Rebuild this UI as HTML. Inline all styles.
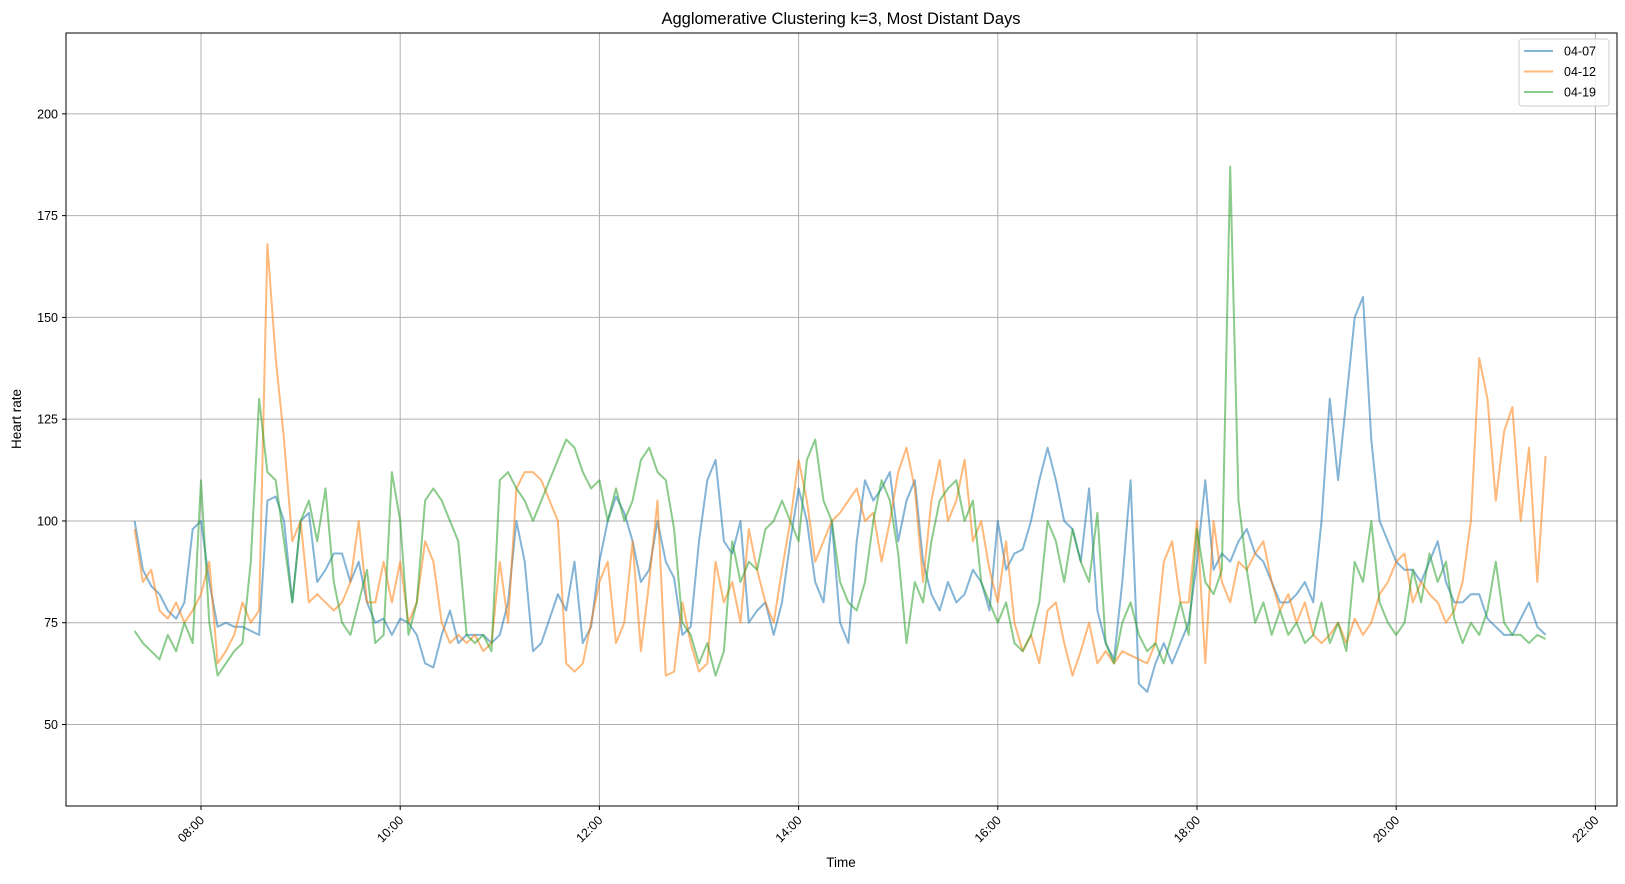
<!DOCTYPE html>
<html><head><meta charset="utf-8"><style>
body{margin:0;background:#fff}
svg text{font-family:"Liberation Sans","DejaVu Sans",sans-serif;fill:#000}
</style></head><body>
<svg id="chart" width="1625" height="879" xmlns="http://www.w3.org/2000/svg">
<rect width="1625" height="879" fill="#fff"/>
<text x="841" y="24" font-size="16.5" text-anchor="middle">Agglomerative Clustering k=3, Most Distant Days</text>
<g id="grid"></g><g id="series"></g><g id="axes"></g>
<text x="841" y="867" font-size="13.5" text-anchor="middle">Time</text>
<text x="21" y="419" font-size="13.5" text-anchor="middle" transform="rotate(-90 21 419)">Heart rate</text>
<g id="legend"></g>
</svg>
<script>
const startMinutes = 7*60+20;
const stepMinutes = 5;
const yTicks = [50,75,100,125,150,175,200];
const xTickHours = [8,10,12,14,16,18,20,22];
const seriesNames = ["04-07","04-12","04-19"];
const s0407 = [100,88,84,82,78,76,80,98,
100,85,74,75,74,74,73,72,105,106,100,80,
100,102,85,88,92,92,85,90,80,75,76,72,
76,75,72,65,64,72,78,70,72,72,72,70,
72,80,100,90,68,70,76,82,78,90,70,74,
90,100,106,102,95,85,88,100,90,86,72,74,
95,110,115,95,92,100,75,78,80,72,80,95,
108,100,85,80,100,75,70,95,110,105,108,112,
95,105,110,90,82,78,85,80,82,88,85,78,
100,88,92,93,100,110,118,110,100,98,90,108,
78,70,66,85,110,60,58,65,70,65,70,75,
90,110,88,92,90,95,98,92,90,85,80,80,
82,85,80,100,130,110,130,150,155,120,100,95,
90,88,88,85,90,95,85,80,80,82,82,76,
74,72,72,76,80,74,72];
const s0412 = [98,85,88,78,76,80,75,78,
82,90,65,68,72,80,75,78,168,140,120,95,
100,80,82,80,78,80,85,100,80,80,90,80,
90,75,80,95,90,75,70,72,70,72,68,70,
90,75,108,112,112,110,105,100,65,63,65,75,
85,90,70,75,95,68,85,105,62,63,80,70,
63,65,90,80,85,75,98,88,80,75,88,100,
115,105,90,95,100,102,105,108,100,102,90,100,
112,118,108,85,105,115,100,105,115,95,100,88,
80,95,75,68,72,65,78,80,70,62,68,75,
65,68,65,68,67,66,65,70,90,95,80,80,
100,65,100,85,80,90,88,92,95,85,78,82,
75,80,72,70,72,75,70,76,72,75,82,85,
90,92,80,85,82,80,75,78,85,100,140,130,
105,122,128,100,118,85,116];
const s0419 = [73,70,68,66,72,68,75,70,
110,75,62,65,68,70,90,130,112,110,95,80,
100,105,95,108,85,75,72,80,88,70,72,112,
100,72,80,105,108,105,100,95,72,70,72,68,
110,112,108,105,100,105,110,115,120,118,112,108,
110,100,108,100,105,115,118,112,110,98,75,72,
65,70,62,68,95,85,90,88,98,100,105,100,
95,115,120,105,100,85,80,78,85,100,110,105,
92,70,85,80,95,105,108,110,100,105,85,80,
75,80,70,68,72,80,100,95,85,98,90,85,
102,70,65,75,80,72,68,70,65,72,80,72,
98,85,82,88,187,105,88,75,80,72,78,72,
75,70,72,80,70,75,68,90,85,100,80,75,
72,75,88,80,92,85,90,76,70,75,72,78,
90,75,72,72,70,72,71];
const colors = ["#1f77b4","#ff7f0e","#2ca02c"];
const L=66,R=1617,T=33,B=806;
function xs(m){return 201+(m-480)*(199.2/120);}
function ys(v){return 724.5-(v-50)*4.071;}
const NS="http://www.w3.org/2000/svg";
function mk(tag,attrs,parent){const e=document.createElementNS(NS,tag);for(const k in attrs)e.setAttribute(k,attrs[k]);parent.appendChild(e);return e;}
const grid=document.getElementById('grid'),axes=document.getElementById('axes'),ser=document.getElementById('series'),leg=document.getElementById('legend');
yTicks.forEach(v=>{const y=ys(v);
 const g=mk('line',{x1:L,x2:R,y1:y,y2:y,stroke:'#b0b0b0','stroke-width':1},grid);
 
 
 const t=mk('line',{x1:L-4,x2:L,y1:y,y2:y,stroke:'#000'},axes);
 
 
 const tx=mk('text',{x:L-8,y:y+4.5,'font-size':12.5,'text-anchor':'end'},axes);tx.textContent=v;
 
 
});
xTickHours.forEach(h=>{const x=xs(h*60);
 const g=mk('line',{x1:x,x2:x,y1:T,y2:B,stroke:'#b0b0b0','stroke-width':1},grid);
 
 
 const t=mk('line',{x1:x,x2:x,y1:B,y2:B+4,stroke:'#000'},axes);
 
 
 const lab=(h<10?'0':'')+h+':00';
 const tx=mk('text',{x:x+4,y:B+15,'font-size':12.5,'text-anchor':'end',transform:`rotate(-45 ${x+4} ${B+15})`},axes);tx.textContent=lab;
 
 
});
const fr=mk('rect',{x:L,y:T,width:R-L,height:B-T,fill:'none',stroke:'#000','stroke-width':1},axes);


[s0407,s0412,s0419].forEach((arr,si)=>{
 const pts=arr.map((v,i)=>xs(startMinutes+i*stepMinutes).toFixed(1)+','+ys(v).toFixed(1)).join(' ');
 const p=mk('polyline',{points:pts,fill:'none',stroke:colors[si],'stroke-width':2,'stroke-opacity':0.55,'stroke-linejoin':'round'},ser);
 
 
});
const lb=mk('rect',{x:1519,y:39,width:90,height:67,rx:3,fill:'#fff','fill-opacity':0.8,stroke:'#ccc'},leg);


seriesNames.forEach((n,i)=>{const y=51+i*20.5;
 const l=mk('line',{x1:1524,x2:1553,y1:y,y2:y,stroke:colors[i],'stroke-width':2,'stroke-opacity':0.55},leg);
 
 
 const t=mk('text',{x:1564,y:y+4.5,'font-size':12.5},leg);t.textContent=n;
 
 
});
</script>
</body></html>
